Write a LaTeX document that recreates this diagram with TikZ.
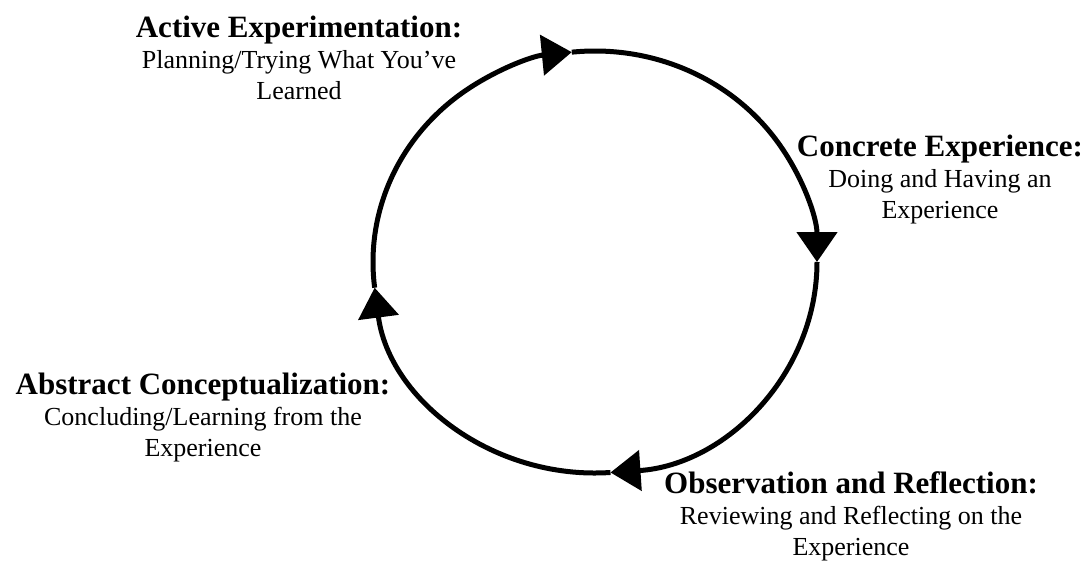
\documentclass[tikz,border=0pt]{standalone}
\usepackage{fontspec}
\setmainfont{Liberation Serif}
\usetikzlibrary{arrows.meta,calc}
\tikzset{
  stage/.style={align=center, inner sep=0pt, anchor=north, font=\fontsize{26}{31}\selectfont},
  cyc/.style={-{Triangle[length=30pt,width=40pt]}, line width=5pt},
}
\newcommand{\stagehead}[1]{{\fontsize{31}{31}\selectfont\bfseries #1}}

\begin{document}
\begin{tikzpicture}[x=1pt, y=-1pt]
    \useasboundingbox (0,0) rectangle (1089,560);

    \node[stage] (active) at (299,15.6) {\stagehead{Active Experimentation:}\\ Planning/Trying What You've\\ Learned};
    \node[stage] (concrete) at (940,134.6) {\stagehead{Concrete Experience:}\\ Doing and Having an\\ Experience};
    \node[stage] (observe) at (851,471.6) {\stagehead{Observation and Reflection:}\\ Reviewing and Reflecting on the\\ Experience};
    \node[stage] (abstract) at (203,372.6) {\stagehead{Abstract Conceptualization:}\\ Concluding/Learning from the\\ Experience};

    % learning cycle
    \coordinate (mid) at (595,262);
    \coordinate (tipleft) at ($(mid)+(173:222 and 211)$);
    \coordinate (tiptop) at ($(mid)+(264:222 and 211)$);
    \coordinate (tipright) at ($(mid)+(360:222 and 211)$);
    \coordinate (tipbottom) at ($(mid)+(86:222 and 211)$);

    \foreach \from/\a/\b in {tipleft/173/264, tiptop/264/360, tipright/0/86, tipbottom/86/173}
      \draw[cyc] (\from) arc[start angle=\a, end angle=\b, x radius=222, y radius=211];
\end{tikzpicture}
\end{document}
